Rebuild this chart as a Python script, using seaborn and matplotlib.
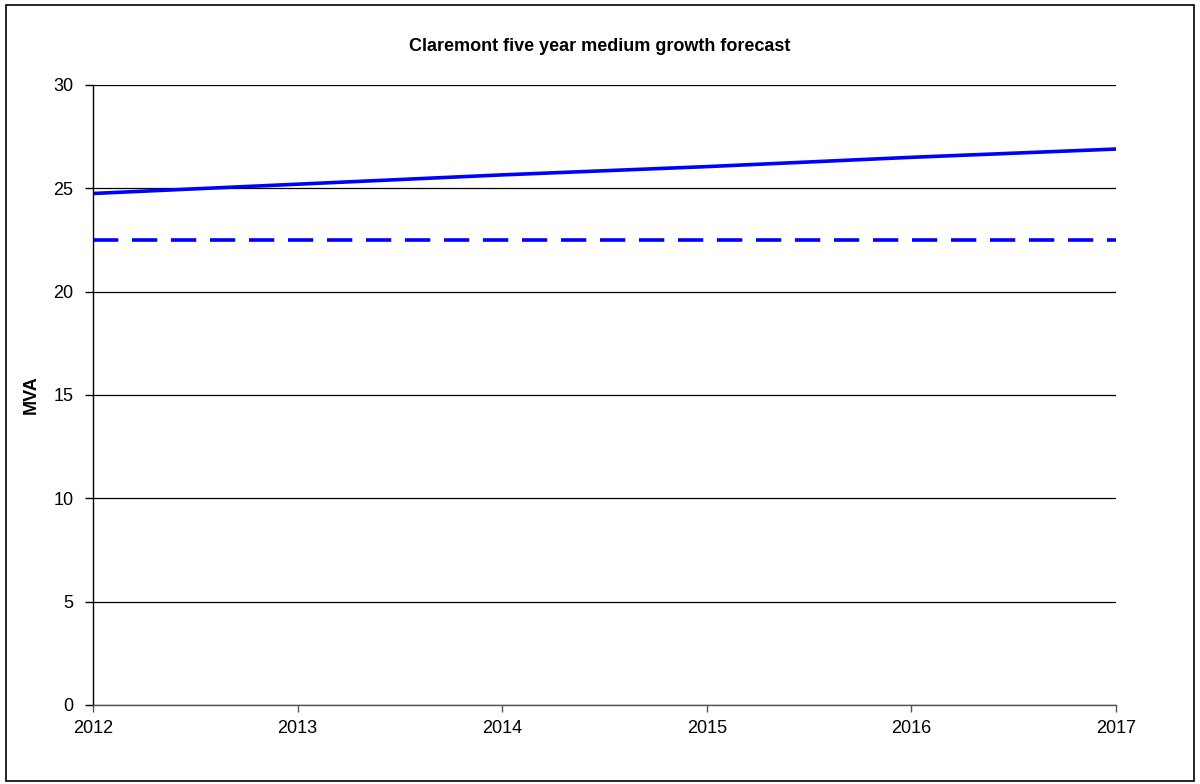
import matplotlib
matplotlib.use("Agg")
import matplotlib.pyplot as plt
import matplotlib.patches as mpatches
import seaborn as sns
import pandas as pd

# Forecast data
years = [2012, 2013, 2014, 2015, 2016, 2017]
forecast_mva = [24.75, 25.2, 25.65, 26.05, 26.5, 26.9]
firm_capacity_mva = [22.5, 22.5, 22.5, 22.5, 22.5, 22.5]

y_ticks = [0, 5, 10, 15, 20, 25, 30]

sns.set_theme(style="white")
plt.rcParams["font.family"] = ["Liberation Sans", "DejaVu Sans"]
plt.rcParams["text.color"] = "black"
plt.rcParams["axes.labelcolor"] = "black"

df = pd.DataFrame({"year": years, "forecast": forecast_mva, "firm": firm_capacity_mva})

fig = plt.figure(figsize=(12, 7.84), dpi=100)
ax = fig.add_axes([0.0775, 0.1008, 0.8525, 0.7908])

sns.lineplot(data=df, x="year", y="forecast", ax=ax, color="#0000FF", linewidth=2.6)
sns.lineplot(data=df, x="year", y="firm", ax=ax, color="#0000FF", linewidth=2.6,
             dashes=False, linestyle=(0, (7, 3.8)))

ax.set_xlim(2012, 2017)
ax.set_ylim(0, 30)
ax.set_yticks(y_ticks)
ax.set_xticks(years)
ax.set_xticklabels([str(y) for y in years])

ax.yaxis.grid(True, color="black", linewidth=0.9)
ax.xaxis.grid(False)
ax.set_axisbelow(True)

for side in ["top", "right"]:
    ax.spines[side].set_visible(False)
ax.spines["left"].set_color("black")
ax.spines["left"].set_linewidth(1.0)
ax.spines["bottom"].set_color("#555555")
ax.spines["bottom"].set_linewidth(1.0)

ax.tick_params(axis="y", which="major", direction="out", length=6, width=1.0,
               color="black", left=True, labelsize=13, pad=8, labelcolor="black")
ax.tick_params(axis="x", which="major", direction="out", length=5, width=1.0,
               color="#555555", bottom=True, labelsize=13, pad=6, labelcolor="black")

ax.set_xlabel("")
ax.set_ylabel("MVA", fontsize=13, fontweight="bold", color="black")
ax.yaxis.set_label_coords(-0.052, 0.5)
fig.text(0.5, 0.941, "Claremont five year medium growth forecast", ha="center",
         va="center", fontsize=13, fontweight="bold", color="black")

# Outer chart frame
frame = mpatches.Rectangle((0.005, 0.004), 0.990, 0.990, transform=fig.transFigure,
                           fill=False, edgecolor="black", linewidth=1.2)
fig.patches.append(frame)

fig.savefig("out.png", dpi=100, facecolor="white")
